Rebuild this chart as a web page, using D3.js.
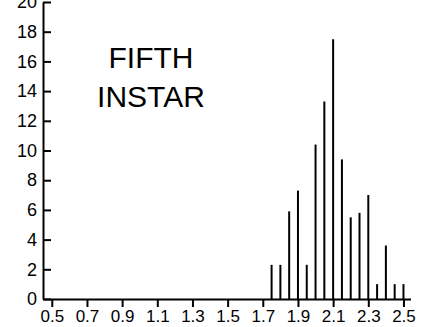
<!DOCTYPE html>
<html>
<head>
<meta charset="utf-8">
<script src="https://cdn.jsdelivr.net/npm/d3@7/dist/d3.min.js"></script>
<style>
  body { margin: 0; background: #fff; }
  svg { display: block; font-family: "Liberation Sans", Arial, Helvetica, sans-serif; }
  .axis path, .axis line { stroke: #000; stroke-width: 2; }
  .axis text { fill: #000; }
</style>
</head>
<body>
<svg class="chart"></svg>
<script>
var WIDTH = 428, HEIGHT = 327;

// head capsule width (mm) classes and frequency (%)
var sizes = [1.75, 1.80, 1.85, 1.90, 1.95, 2.00, 2.05, 2.10, 2.15, 2.20, 2.25, 2.30, 2.35, 2.40, 2.45, 2.50];
var freq  = [2.3, 2.3, 5.9, 7.3, 2.3, 10.4, 13.3, 17.5, 9.4, 5.5, 5.8, 7.0, 1.0, 3.6, 1.0, 1.0];
var xTicks = [0.5, 0.7, 0.9, 1.1, 1.3, 1.5, 1.7, 1.9, 2.1, 2.3, 2.5];
var yTicks = [0, 2, 4, 6, 8, 10, 12, 14, 16, 18, 20];
var label = ["FIFTH", "INSTAR"];

var svg = d3.select(".chart").attr("width", WIDTH).attr("height", HEIGHT);

var x = d3.scaleLinear().domain([0.45, 2.54]).range([43, 410.5]);
var y = d3.scaleLinear().domain([0, 20]).range([299, 2]);

// bars
svg.selectAll("line.bar").data(sizes).enter().append("line")
  .attr("class", "bar")
  .attr("x1", d => x(d)).attr("x2", d => x(d))
  .attr("y1", y(0)).attr("y2", (d, i) => y(freq[i]))
  .attr("stroke", "#000").attr("stroke-width", 2);

// x axis
var gx = svg.append("g").attr("class", "axis")
  .attr("transform", "translate(0," + y(0) + ")")
  .call(d3.axisBottom(x).tickValues(xTicks).tickSizeInner(8).tickSizeOuter(0).tickPadding(3).tickFormat(d3.format(".1f")));
gx.selectAll("text").style("font-size", "17px");

// y axis, ticks pointing inward
var gy = svg.append("g").attr("class", "axis")
  .attr("transform", "translate(" + x(0.45) + ",0)")
  .call(d3.axisLeft(y).tickValues(yTicks).tickSizeInner(-8).tickSizeOuter(0).tickPadding(6));
gy.selectAll("text").style("font-size", "18px");

// instar label
svg.selectAll("text.lbl").data(label).enter().append("text")
  .attr("class", "lbl")
  .attr("x", 151).attr("y", (d, i) => 68 + i * 39)
  .attr("text-anchor", "middle")
  .style("font-size", "30px")
  .text(d => d);
</script>
</body>
</html>
